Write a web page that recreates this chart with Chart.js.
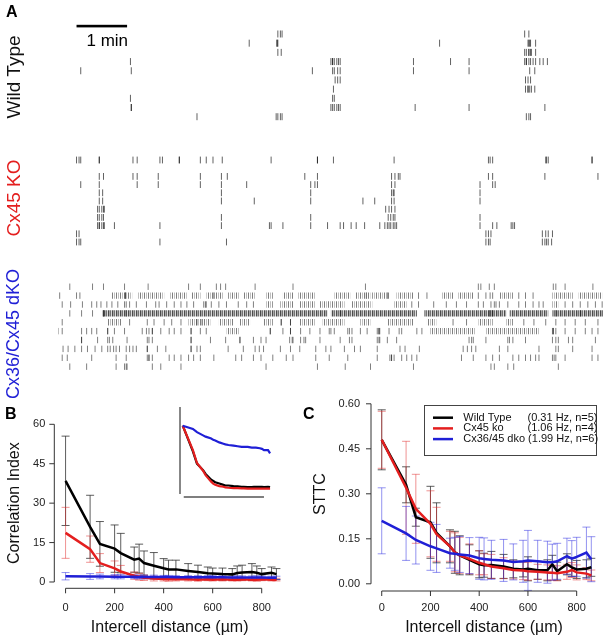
<!DOCTYPE html>
<html>
<head>
<meta charset="utf-8">
<script src="https://cdn.jsdelivr.net/npm/chart.js@4.4.1/dist/chart.umd.min.js"></script>
<style>
  body { margin: 0; background: #fff; width: 608px; height: 639px; position: relative; overflow: hidden;
         font-family: "Liberation Sans", Arial, Helvetica, sans-serif; }
  canvas { position: absolute; left: 0; top: 0; }
  .pl { position: absolute; font-weight: bold; font-size: 16px; line-height: 1; }
  .gl { position: absolute; font-size: 19px; line-height: 1; white-space: nowrap;
        transform: translate(-50%, -50%) rotate(-90deg); }
</style>
</head>
<body>
<canvas id="wt" width="608" height="639"></canvas>
<canvas id="ko" width="608" height="639"></canvas>
<canvas id="dko" width="608" height="639"></canvas>
<canvas id="ci" width="608" height="639"></canvas>
<canvas id="inset" width="608" height="639"></canvas>
<canvas id="sttc" width="608" height="639"></canvas>

<div class="pl" style="left:6px;top:4px">A</div>
<div class="pl" style="left:5px;top:406px">B</div>
<div class="pl" style="left:303px;top:406px">C</div>
<div class="gl" style="left:13px;top:77px;color:#111">Wild Type</div>
<div class="gl" style="left:13px;top:198px;color:#e41e1e">Cx45 KO</div>
<div class="gl" style="left:13px;top:334px;color:#1f1fd6;font-size:18px">Cx36/Cx45 dKO</div>

<script>
// ---- panel A: spike times (s) per electrode row ----
const wtSpikes = [
  [261, 264, 266, 554, 559],
  [227, 260, 260, 261, 453, 558, 559, 560, 561, 567],
  [261, 265, 554, 556, 559, 559, 561, 562, 567],
  [86, 324, 326, 326, 328, 331, 333, 335, 422, 466, 488, 554, 556, 556, 559, 561, 564, 567, 572, 576, 581],
  [27, 87, 302, 326, 328, 332, 335, 422, 488, 560, 566],
  [329, 332, 335, 555, 558, 561],
  [327, 555, 558, 558, 560, 562, 566],
  [86, 326, 328],
  [87, 87, 324, 326, 328, 331, 333, 335, 424, 488, 578],
  [165, 259, 261, 264, 266, 556, 559, 561]
];
const koSpikes = [
  [22, 25, 27, 49, 49, 89, 94, 121, 124, 144, 144, 169, 176, 184, 195, 253, 308, 308, 327, 399, 511, 513, 516, 579, 580, 582, 634, 634],
  [],
  [49, 54, 89, 94, 119, 169, 194, 201, 293, 308, 396, 400, 404, 406, 511, 516, 578, 641],
  [27, 49, 94, 119, 169, 194, 224, 300, 305, 308, 396, 400, 501, 516, 519],
  [49, 53, 194, 300, 396, 398, 399, 501],
  [49, 53, 194, 233, 300, 362, 376, 396, 399, 501],
  [47, 49, 52, 54, 55, 389, 393, 396, 400],
  [47, 49, 52, 54, 194, 300, 392, 395, 398, 400, 501],
  [47, 49, 49, 52, 54, 55, 67, 121, 194, 251, 253, 267, 300, 320, 335, 339, 348, 354, 364, 382, 388, 391, 393, 395, 398, 400, 402, 501, 516, 521, 538, 540, 542],
  [22, 25, 508, 511, 514, 575, 579, 582, 587],
  [22, 25, 27, 121, 200, 508, 511, 513, 575, 578, 580, 582, 586]
];
const dkoSpikes = [
  [14, 41, 54, 79, 107, 155, 169, 188, 193, 199, 234, 279, 365, 499, 502, 512, 518, 588, 591, 602, 635],
  [2, 22, 26, 80, 80, 185, 366, 391, 428, 438, 499, 508, 513, 516, 547, 555, 564],
  [5, 15, 29, 40, 46, 51, 58, 64, 71, 79, 81, 85, 93, 105, 116, 120, 129, 138, 146, 153, 161, 173, 175, 176, 182, 191, 200, 214, 224, 232, 420, 428, 446, 461, 473, 485, 499, 505, 514, 518, 520, 524, 534, 547, 555, 564, 571, 576, 602, 611, 620, 629, 638, 646],
  [14, 28, 41, 54, 54, 81, 335, 512, 514, 516, 591, 620],
  [5, 85, 106, 114, 126, 135, 146, 165, 171, 265, 265, 276, 276, 469, 485, 553, 565, 579, 591, 602, 614, 626, 641],
  [0, 5, 28, 34, 40, 46, 59, 59, 67, 79, 100, 105, 108, 112, 112, 122, 132, 138, 146, 158, 158, 169, 176, 252, 252, 267, 276, 276, 288, 299, 311, 322, 324, 328, 344, 346, 349, 359, 367, 379, 381, 381, 382, 393, 405, 408, 426, 432, 587, 588, 588, 591, 602, 614, 626, 634, 641],
  [28, 28, 47, 59, 61, 65, 82, 106, 108, 112, 158, 158, 181, 199, 216, 216, 232, 241, 247, 275, 278, 279, 288, 292, 294, 311, 335, 346, 349, 379, 381, 382, 391, 402, 488, 491, 493, 508, 534, 536, 540, 555, 587, 591, 594, 606, 611, 638],
  [6, 12, 20, 28, 35, 44, 52, 59, 62, 66, 69, 73, 81, 85, 89, 93, 106, 106, 118, 128, 158, 158, 165, 169, 202, 220, 234, 239, 244, 264, 276, 287, 306, 318, 324, 340, 352, 359, 379, 406, 412, 429, 481, 486, 491, 496, 524, 534, 571, 591, 594, 611, 634],
  [5, 11, 40, 69, 81, 106, 108, 108, 112, 132, 138, 146, 155, 161, 169, 185, 211, 218, 232, 241, 255, 271, 279, 306, 322, 344, 379, 394, 396, 396, 399, 408, 414, 420, 426, 479, 493, 508, 516, 524, 540, 547, 555, 561, 567, 571, 587, 589, 591, 602, 634, 641],
  [14, 34, 69, 79, 81, 82, 112, 122, 146, 247, 308, 341, 371, 422, 514, 518, 534, 541, 594]
];
// periods of near continuous firing [start, end] (s)
const dkoBursts = [
  [],
  [[64, 88], [94, 126], [132, 153], [159, 169], [176, 196], [202, 216], [220, 235], [247, 255], [267, 279], [285, 306], [328, 347], [353, 371], [373, 394], [402, 422], [455, 469], [475, 493], [524, 540], [587, 611], [618, 646]],
  [[247, 255], [264, 279], [287, 306], [311, 340], [349, 373], [399, 414], [587, 594]],
  [[53, 320], [324, 426], [435, 532], [536, 582], [587, 647]],
  [[59, 75], [155, 181], [191, 208], [216, 228], [244, 255], [287, 306], [314, 340], [359, 371], [391, 422], [438, 449], [499, 516], [532, 540]],
  [[200, 216], [441, 496], [508, 571]],
  [], [], [], []
];

// ---- panels B and C ----
const distance = [0, 100, 140, 200, 225, 280, 300, 320, 360, 400, 420, 450, 500, 540, 580, 600, 640, 680, 700, 720, 760, 780, 800, 840, 860];

const ciWT    = [38.5, 21, 14.5, 12.7, 11, 8.5, 8.9, 7.2, 6.2, 5.2, 4.8, 4.8, 4.2, 3.8, 3.3, 3.2, 3.0, 2.9, 3.4, 3.6, 3.8, 3.5, 3.0, 3.5, 3.0];
const ciWTsd  = [17, 12, 8.5, 9, 7.5, 4.8, 5.5, 4.6, 5, 3.7, 3.5, 3.5, 2.8, 2.6, 2.4, 2.1, 2.3, 2.2, 2.7, 2.8, 3.2, 2.6, 2.1, 2.2, 2.1];
const ciKO    = [18.7, 12.5, 7.2, 5.2, 4.0, 2.4, 2.0, 1.6, 1.3, 1.1, 1.0, 1.0, 1.0, 0.9, 1.0, 0.9, 1.0, 0.9, 0.9, 1.0, 0.9, 0.9, 1.0, 0.9, 0.9];
const ciKOsd  = [9.7, 5, 3.6, 2.8, 2.3, 1.4, 1.3, 1.0, 0.9, 0.7, 0.7, 0.6, 0.6, 0.6, 0.5, 0.5, 0.6, 0.5, 0.5, 0.5, 0.5, 0.6, 0.5, 0.5, 0.5];
const ciDKO   = [2.2, 2.1, 2.1, 2.0, 2.0, 2.0, 1.9, 1.9, 1.9, 1.9, 1.9, 1.8, 1.8, 1.8, 1.8, 1.8, 1.8, 1.7, 1.7, 1.7, 1.7, 1.7, 1.7, 1.6, 1.6];
const ciDKOsd = [1.4, 1.1, 0.9, 0.8, 0.8, 0.7, 0.7, 0.7, 0.7, 0.6, 0.6, 0.6, 0.6, 0.6, 0.6, 0.6, 0.6, 0.6, 0.6, 0.6, 0.6, 0.6, 0.6, 0.6, 0.6];

// inset: correlation index normalised to its value at 0 um
const insetWT  = [1.0, 0.6, 0.41, 0.31, 0.25, 0.16, 0.14, 0.12, 0.1, 0.08, 0.07, 0.07, 0.06, 0.055, 0.05, 0.05, 0.045, 0.045, 0.05, 0.05, 0.05, 0.05, 0.045, 0.05, 0.045];
const insetKO  = [1.0, 0.62, 0.42, 0.3, 0.23, 0.13, 0.1, 0.08, 0.06, 0.05, 0.04, 0.035, 0.03, 0.03, 0.025, 0.025, 0.02, 0.02, 0.02, 0.02, 0.02, 0.02, 0.02, 0.02, 0.02];
const insetDKO = [1.0, 0.95, 0.9, 0.85, 0.83, 0.8, 0.78, 0.77, 0.74, 0.72, 0.71, 0.7, 0.69, 0.68, 0.67, 0.67, 0.67, 0.66, 0.66, 0.66, 0.65, 0.64, 0.62, 0.62, 0.57];

const sttcWT    = [0.48, 0.33, 0.222, 0.205, 0.17, 0.125, 0.105, 0.095, 0.08, 0.065, 0.062, 0.063, 0.058, 0.05, 0.048, 0.05, 0.045, 0.045, 0.065, 0.042, 0.065, 0.055, 0.048, 0.05, 0.055];
const sttcWTsd  = [0.10, 0.06, 0.03, 0.12, 0.10, 0.055, 0.07, 0.065, 0.05, 0.045, 0.04, 0.045, 0.04, 0.03, 0.025, 0.04, 0.03, 0.035, 0.03, 0.03, 0.035, 0.03, 0.03, 0.03, 0.03];
const sttcKO    = [0.48, 0.32, 0.25, 0.2, 0.165, 0.125, 0.105, 0.095, 0.083, 0.07, 0.065, 0.058, 0.052, 0.046, 0.044, 0.042, 0.04, 0.038, 0.037, 0.035, 0.04, 0.046, 0.038, 0.034, 0.028];
const sttcKOsd  = [0.095, 0.155, 0.115, 0.11, 0.09, 0.05, 0.065, 0.06, 0.05, 0.04, 0.035, 0.04, 0.035, 0.03, 0.03, 0.03, 0.025, 0.025, 0.025, 0.025, 0.025, 0.025, 0.025, 0.02, 0.018];
const sttcDKO   = [0.21, 0.168, 0.146, 0.125, 0.118, 0.102, 0.1, 0.098, 0.094, 0.085, 0.083, 0.08, 0.078, 0.073, 0.075, 0.078, 0.075, 0.072, 0.072, 0.075, 0.092, 0.084, 0.09, 0.104, 0.082];
const sttcDKOsd = [0.11, 0.09, 0.08, 0.08, 0.08, 0.05, 0.055, 0.06, 0.06, 0.07, 0.07, 0.065, 0.07, 0.06, 0.07, 0.1, 0.07, 0.07, 0.06, 0.06, 0.06, 0.06, 0.065, 0.085, 0.075];

const groupNames = ['Wild Type', 'Cx45 ko', 'Cx36/45 dko'];
const groupNotes = ['(0.31 Hz, n=5)', '(1.06 Hz, n=4)', '(1.99 Hz, n=6)'];

const FONT = '"Liberation Sans", Arial, Helvetica, sans-serif';
const BLACK = '#000', RED = '#e41e1e', BLUE = '#1f1fd6';

function spikeData(rows) {
  const out = [];
  rows.forEach((r, i) => r.forEach(t => out.push({ x: t, y: i })));
  return out;
}
function burstData(rows) {
  const out = [];
  rows.forEach((r, i) => r.forEach(b => out.push({ x: b[0], y: i }, { x: b[1], y: i }, { x: b[1], y: null })));
  return out;
}
function xy(ys, xs) { return xs.map((x, i) => ({ x, y: ys[i] })); }

function stripes(ctx, cols) {
  const c = document.createElement('canvas');
  c.width = cols.length; c.height = 1;
  const g = c.getContext('2d');
  cols.forEach((col, i) => { g.fillStyle = col; g.fillRect(i, 0, 1, 1); });
  return ctx.createPattern(c, 'repeat');
}

const base = {
  responsive: false, animation: false, devicePixelRatio: 1, events: [],
  plugins: { legend: { display: false }, tooltip: { enabled: false } }
};

function raster(id, rows, top, bottom, radius, tint, extra, plugins) {
  return new Chart(document.getElementById(id), {
    type: 'scatter',
    data: { datasets: [{
      data: spikeData(rows), pointStyle: 'line', pointRotation: 90, pointRadius: radius,
      pointBorderColor: tint, pointBorderWidth: 1
    }].concat(extra || []) },
    options: Object.assign({}, base, {
      layout: { padding: { left: 58, right: 0, top: top, bottom: 639 - bottom } },
      scales: {
        x: { type: 'linear', display: false, min: 0, max: 647 },
        y: { type: 'linear', display: false, reverse: true, min: -0.5, max: rows.length - 0.5 }
      }
    }),
    plugins: plugins || []
  });
}

// scale bar of 1 min
const scaleBar = {
  id: 'scaleBar',
  afterDraw(chart) {
    const { ctx, scales: { x } } = chart;
    const x0 = x.getPixelForValue(22), x1 = x.getPixelForValue(82);
    ctx.save();
    ctx.fillStyle = '#000';
    ctx.fillRect(x0, 24.8, x1 - x0, 2.6);
    ctx.font = '17px ' + FONT; ctx.textAlign = 'right'; ctx.textBaseline = 'middle';
    ctx.fillText('1 min', x1 + 1, 41);
    ctx.restore();
  }
};

raster('wt', wtSpikes, 29.4, 121.3, 3.5, 'rgba(0,0,0,0.62)', [], [scaleBar]);
raster('ko', koSpikes, 155.9, 246.1, 3.4, 'rgba(0,0,0,0.62)');

const dkoCtx = document.getElementById('dko').getContext('2d');
const denseFill = stripes(dkoCtx, ['rgba(0,0,0,0.7)', 'rgba(0,0,0,0.35)', 'rgba(0,0,0,0.55)', 'rgba(0,0,0,0.15)']);
const lightFill = stripes(dkoCtx, ['rgba(0,0,0,0.5)', 'rgba(0,0,0,0)', 'rgba(0,0,0,0.25)', 'rgba(0,0,0,0)']);
raster('dko', dkoSpikes, 282.3, 371.1, 3.2, 'rgba(0,0,0,0.5)', [{
  data: burstData(dkoBursts), showLine: true, spanGaps: false, pointRadius: 0,
  borderWidth: 6.4, borderCapStyle: 'butt', borderColor: lightFill,
  segment: { borderColor: c => (c.p0.parsed.y === 3 ? denseFill : lightFill) }
}]);

// error bars drawn under the mean lines
const errorBars = {
  id: 'errorBars',
  beforeDatasetsDraw(chart) {
    const { ctx, scales: { x, y } } = chart;
    ctx.save();
    ctx.lineWidth = 1;
    chart.data.datasets.forEach(ds => {
      if (!ds.sd) return;
      ctx.strokeStyle = ds.errColor;
      ds.data.forEach((p, i) => {
        const px = x.getPixelForValue(p.x);
        const top = y.getPixelForValue(p.y + ds.sd[i]);
        const bot = y.getPixelForValue(p.y - ds.sd[i]);
        ctx.beginPath();
        ctx.moveTo(px, top); ctx.lineTo(px, bot);
        ctx.moveTo(px - 4, top); ctx.lineTo(px + 4, top);
        ctx.moveTo(px - 4, bot); ctx.lineTo(px + 4, bot);
        ctx.stroke();
      });
    });
    ctx.restore();
  }
};

// R-like axes: lines only across the tick range, ticks outside
function rAxes(cfg) {
  return {
    id: 'rAxes',
    afterDraw(chart) {
      const { ctx, chartArea: a, scales: { x, y } } = chart;
      const xt = cfg.xTicks, yt = cfg.yTicks;
      ctx.save();
      ctx.strokeStyle = '#333'; ctx.fillStyle = '#222'; ctx.lineWidth = 1;
      ctx.beginPath();
      ctx.moveTo(x.getPixelForValue(xt[0]), a.bottom);
      ctx.lineTo(x.getPixelForValue(xt[xt.length - 1]), a.bottom);
      xt.forEach(v => { const p = x.getPixelForValue(v); ctx.moveTo(p, a.bottom); ctx.lineTo(p, a.bottom + 5); });
      ctx.moveTo(a.left, y.getPixelForValue(yt[0]));
      ctx.lineTo(a.left, y.getPixelForValue(yt[yt.length - 1]));
      yt.forEach(v => { const p = y.getPixelForValue(v); ctx.moveTo(a.left, p); ctx.lineTo(a.left - 5, p); });
      ctx.stroke();
      ctx.font = '11px ' + FONT; ctx.textBaseline = 'middle';
      ctx.textAlign = 'center';
      xt.forEach(v => ctx.fillText(String(v), x.getPixelForValue(v), 608));
      ctx.textAlign = 'right';
      yt.forEach(v => ctx.fillText(v.toFixed(cfg.yDigits), a.left - cfg.yGap, y.getPixelForValue(v)));
      ctx.fillStyle = '#111';
      ctx.font = '16px ' + FONT; ctx.textAlign = 'center';
      ctx.fillText(cfg.xTitle, (a.left + a.right) / 2, 628);
      ctx.translate(cfg.yTitleX, (a.top + a.bottom) / 2);
      ctx.rotate(-Math.PI / 2);
      ctx.fillText(cfg.yTitle, 0, 0);
      ctx.restore();
    }
  };
}

function meanLine(label, ys, sd, color, errColor, order, width) {
  return {
    label, data: xy(ys, distance), sd, errColor, showLine: true, pointRadius: 0,
    borderColor: color, borderWidth: width || 2.5, order
  };
}

new Chart(document.getElementById('ci'), {
  type: 'scatter',
  data: { datasets: [
    meanLine(groupNames[0], ciWT, ciWTsd, BLACK, 'rgba(40,40,40,0.75)', 3),
    meanLine(groupNames[1], ciKO, ciKOsd, RED, 'rgba(225,40,40,0.5)', 2),
    meanLine(groupNames[2], ciDKO, ciDKOsd, BLUE, 'rgba(40,40,225,0.5)', 1)
  ] },
  options: Object.assign({}, base, {
    layout: { padding: { left: 54.3, right: 323, top: 418, bottom: 50.7 } },
    scales: {
      x: { type: 'linear', display: false, min: -46, max: 895 },
      y: { type: 'linear', display: false, min: -2.4, max: 62.4 }
    }
  }),
  plugins: [errorBars, rAxes({
    xTicks: [0, 200, 400, 600, 800], yTicks: [0, 15, 30, 45, 60], yDigits: 0, yGap: 9,
    xTitle: 'Intercell distance (\u00b5m)', yTitle: 'Correlation Index', yTitleX: 15
  })]
});

const insetAxes = {
  id: 'insetAxes',
  afterDraw(chart) {
    const { ctx, chartArea: a, scales: { x } } = chart;
    ctx.save();
    ctx.strokeStyle = '#555'; ctx.lineWidth = 1.4;
    ctx.beginPath();
    ctx.moveTo(a.left, a.top); ctx.lineTo(a.left, a.bottom - 3);
    ctx.moveTo(x.getPixelForValue(0) + 1, a.bottom); ctx.lineTo(x.getPixelForValue(800), a.bottom);
    ctx.stroke();
    ctx.restore();
  }
};

new Chart(document.getElementById('inset'), {
  type: 'scatter',
  data: { datasets: [
    { data: xy(insetWT, distance), showLine: true, pointRadius: 0, borderColor: BLACK, borderWidth: 2.2, order: 3 },
    { data: xy(insetKO, distance), showLine: true, pointRadius: 0, borderColor: RED, borderWidth: 2.2, order: 2 },
    { data: xy(insetDKO, distance), showLine: true, pointRadius: 0, borderColor: BLUE, borderWidth: 2.2, order: 1 }
  ] },
  options: Object.assign({}, base, {
    layout: { padding: { left: 180, right: 336, top: 407, bottom: 142 } },
    scales: {
      x: { type: 'linear', display: false, min: -27, max: 879 },
      y: { type: 'linear', display: false, min: -0.109, max: 1.291 }
    }
  }),
  plugins: [insetAxes]
});

const legendC = {
  id: 'legendC',
  afterDraw(chart) {
    const { ctx } = chart;
    ctx.save();
    ctx.fillStyle = '#fff';
    ctx.fillRect(424.5, 405.5, 172, 50);
    ctx.strokeStyle = '#444'; ctx.lineWidth = 1;
    ctx.strokeRect(424.5, 405.5, 172, 50);
    ctx.font = '11px ' + FONT; ctx.textBaseline = 'middle'; ctx.textAlign = 'left';
    chart.data.datasets.forEach((ds, i) => {
      const yy = 417.7 + i * 10.7;
      ctx.strokeStyle = ds.borderColor; ctx.lineWidth = 2.5;
      ctx.beginPath(); ctx.moveTo(433, yy); ctx.lineTo(453, yy); ctx.stroke();
      ctx.fillStyle = '#111';
      ctx.fillText(ds.label, 463.3, yy);
      const end = 463.3 + ctx.measureText(ds.label + ' ').width;
      ctx.fillText(ds.note, Math.max(527.5, end), yy);
    });
    ctx.restore();
  }
};

const sttcSets = [
  meanLine(groupNames[0], sttcWT, sttcWTsd, BLACK, 'rgba(40,40,40,0.75)', 3),
  meanLine(groupNames[1], sttcKO, sttcKOsd, RED, 'rgba(225,40,40,0.5)', 2),
  meanLine(groupNames[2], sttcDKO, sttcDKOsd, BLUE, 'rgba(40,40,225,0.5)', 1)
];
sttcSets.forEach((ds, i) => { ds.note = groupNotes[i]; });

new Chart(document.getElementById('sttc'), {
  type: 'scatter',
  data: { datasets: sttcSets },
  options: Object.assign({}, base, {
    layout: { padding: { left: 371, right: 11, top: 397, bottom: 48 } },
    scales: {
      x: { type: 'linear', display: false, min: -44, max: 883.4 },
      y: { type: 'linear', display: false, min: -0.024, max: 0.6227 }
    }
  }),
  plugins: [errorBars, rAxes({
    xTicks: [0, 200, 400, 600, 800], yTicks: [0, 0.15, 0.30, 0.45, 0.60], yDigits: 2, yGap: 11,
    xTitle: 'Intercell distance (\u00b5m)', yTitle: 'STTC', yTitleX: 320.5
  }), legendC]
});
</script>
</body>
</html>
